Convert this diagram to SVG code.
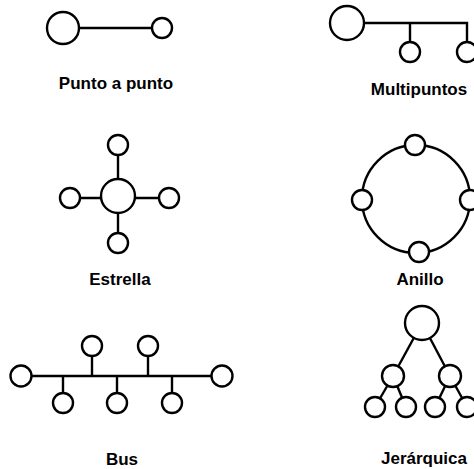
<svg xmlns="http://www.w3.org/2000/svg" width="474" height="469" viewBox="0 0 474 469">
  <style>
    .link { stroke: #000; stroke-width: 2.4; fill: none; }
    .node { stroke: #000; stroke-width: 2.4; fill: #fff; }
    .label { font-family: "Liberation Sans", Arial, sans-serif; font-weight: bold; font-size: 17px; fill: #000; text-anchor: middle; }
  </style>
  <rect width="474" height="469" fill="#fff"/>

  <!-- connectors -->
  <g id="connectors">
    <!-- point to point -->
    <line class="link" x1="63" y1="28" x2="162" y2="28"/>
    <!-- multipoint -->
    <polyline class="link" points="347,23 467,23 467,52"/>
    <line class="link" x1="410" y1="23" x2="410" y2="52"/>
    <!-- star -->
    <line class="link" x1="118" y1="145" x2="118" y2="243"/>
    <line class="link" x1="70" y1="198" x2="169" y2="198"/>
    <!-- ring -->
    <circle class="link" cx="416" cy="199" r="54"/>
    <!-- bus -->
    <line class="link" x1="21" y1="376" x2="222" y2="376"/>
    <line class="link" x1="92" y1="346" x2="92" y2="376"/>
    <line class="link" x1="148" y1="346" x2="148" y2="376"/>
    <line class="link" x1="63" y1="376" x2="63" y2="403"/>
    <line class="link" x1="117" y1="376" x2="117" y2="403"/>
    <line class="link" x1="172" y1="376" x2="172" y2="403"/>
    <!-- hierarchy -->
    <line class="link" x1="422" y1="323" x2="393" y2="376"/>
    <line class="link" x1="422" y1="323" x2="450" y2="376"/>
    <line class="link" x1="393" y1="376" x2="375" y2="407"/>
    <line class="link" x1="393" y1="376" x2="406" y2="407"/>
    <line class="link" x1="450" y1="376" x2="435" y2="407"/>
    <line class="link" x1="450" y1="376" x2="467" y2="407"/>
  </g>

  <!-- point to point -->
  <g id="p2p-host"><circle class="node" cx="63" cy="28" r="16"/></g>
  <g id="p2p-station"><circle class="node" cx="162" cy="28" r="10"/></g>
  <text class="label" x="116" y="89">Punto a punto</text>

  <!-- multipoint -->
  <g id="mp-host"><circle class="node" cx="347" cy="23" r="17"/></g>
  <g id="mp-station-1"><circle class="node" cx="410" cy="52" r="10"/></g>
  <g id="mp-station-2"><circle class="node" cx="467" cy="52" r="10"/></g>
  <text class="label" x="419" y="95">Multipuntos</text>

  <!-- star -->
  <g id="star-hub"><circle class="node" cx="118" cy="196" r="17"/></g>
  <g id="star-top"><circle class="node" cx="118" cy="145" r="10"/></g>
  <g id="star-left"><circle class="node" cx="70" cy="198" r="10"/></g>
  <g id="star-right"><circle class="node" cx="169" cy="198" r="10"/></g>
  <g id="star-bottom"><circle class="node" cx="118" cy="243" r="10"/></g>
  <text class="label" x="120" y="285">Estrella</text>

  <!-- ring -->
  <g id="ring-top"><circle class="node" cx="415" cy="145" r="10"/></g>
  <g id="ring-left"><circle class="node" cx="362" cy="200" r="10"/></g>
  <g id="ring-right"><circle class="node" cx="470" cy="200" r="10"/></g>
  <g id="ring-bottom"><circle class="node" cx="419" cy="252" r="10"/></g>
  <text class="label" x="420" y="285">Anillo</text>

  <!-- bus -->
  <g id="bus-end-left"><circle class="node" cx="21" cy="376" r="10.5"/></g>
  <g id="bus-end-right"><circle class="node" cx="222" cy="376" r="10.5"/></g>
  <g id="bus-up-1"><circle class="node" cx="92" cy="346" r="10"/></g>
  <g id="bus-up-2"><circle class="node" cx="148" cy="346" r="10"/></g>
  <g id="bus-down-1"><circle class="node" cx="63" cy="403" r="10"/></g>
  <g id="bus-down-2"><circle class="node" cx="117" cy="403" r="10"/></g>
  <g id="bus-down-3"><circle class="node" cx="172" cy="403" r="10"/></g>
  <text class="label" x="122" y="465">Bus</text>

  <!-- hierarchy -->
  <g id="tree-root"><circle class="node" cx="422" cy="323" r="17"/></g>
  <g id="tree-mid-left"><circle class="node" cx="393" cy="376" r="11"/></g>
  <g id="tree-mid-right"><circle class="node" cx="450" cy="376" r="11"/></g>
  <g id="tree-leaf-1"><circle class="node" cx="375" cy="407" r="10"/></g>
  <g id="tree-leaf-2"><circle class="node" cx="406" cy="407" r="10"/></g>
  <g id="tree-leaf-3"><circle class="node" cx="435" cy="407" r="10"/></g>
  <g id="tree-leaf-4"><circle class="node" cx="467" cy="407" r="10"/></g>
  <text class="label" x="424" y="464">Jerárquica</text>
</svg>
